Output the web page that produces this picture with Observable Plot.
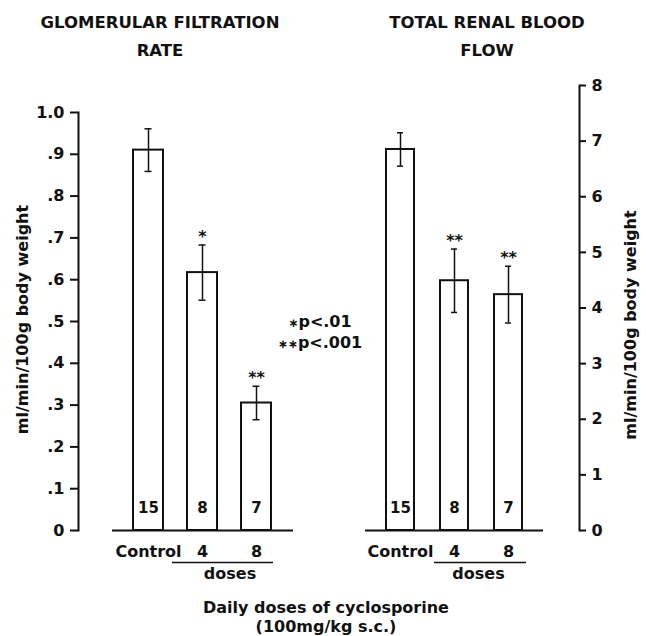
<!DOCTYPE html>
<html>
<head>
<meta charset="utf-8">
<script src="https://cdn.jsdelivr.net/npm/d3@7"></script>
<script src="https://cdn.jsdelivr.net/npm/@observablehq/plot@0.6"></script>
<style>
  html, body { margin: 0; padding: 0; background: #fff; }
  #wrap { position: relative; width: 646px; height: 636px; overflow: hidden; font-family: "DejaVu Sans", "Liberation Sans", Arial, sans-serif; font-weight: bold; color: #111; }
  .abs { position: absolute; white-space: nowrap; }
  .title { font-size: 16.5px; line-height: 28px; text-align: center; transform: translateX(-50%); }
  .note { font-size: 16px; line-height: 21px; text-align: center; transform: translateX(-50%); }
  .st { font-size: 12px; }
  .plot { position: absolute; top: 0; }
</style>
</head>
<body>
<div id="wrap">
  <div class="abs title" style="left:160px; top:9px;">GLOMERULAR FILTRATION<br>RATE</div>
  <div class="abs title" style="left:487px; top:9px;">TOTAL RENAL BLOOD<br>FLOW</div>
  <div class="abs note" style="left:320px; top:312px; line-height:20px;"><span class="st">∗</span>p&lt;.01<br><span class="st">∗∗</span>p&lt;.001</div>
  <div class="abs note" style="left:326px; top:598px; line-height:19px;">Daily doses of cyclosporine<br>(100mg/kg s.c.)</div>
</div>
<script>
// ---- data ----
const categories = ["Control", "4", "8"];

const gfrMean = [0.91, 0.617, 0.305];
const gfrErr  = [0.051, 0.066, 0.040];
const gfrN    = [15, 8, 7];
const gfrSig  = ["", "*", "**"];

const rbfMean = [6.85, 4.49, 4.24];
const rbfErr  = [0.30, 0.57, 0.51];
const rbfN    = [15, 8, 7];
const rbfSig  = ["", "**", "**"];

const gfrTicks = [0, 0.1, 0.2, 0.3, 0.4, 0.5, 0.6, 0.7, 0.8, 0.9, 1.0];
const gfrTickLabels = ["0", ".1", ".2", ".3", ".4", ".5", ".6", ".7", ".8", ".9", "1.0"];
const rbfTicks = [0, 1, 2, 3, 4, 5, 6, 7, 8];
const rbfTickLabels = ["0", "1", "2", "3", "4", "5", "6", "7", "8"];

const yLabel = "ml/min/100g body weight";
const groupLabel = "doses";

function rows(mean, err, n, sig) {
  return categories.map((c, i) => ({cat: c, v: mean[i], lo: mean[i] - err[i], hi: mean[i] + err[i], n: n[i], sig: sig[i]}));
}
const gfr = rows(gfrMean, gfrErr, gfrN, gfrSig);
const rbf = rows(rbfMean, rbfErr, rbfN, rbfSig);

const FONT = '"DejaVu Sans", "Liberation Sans", Arial, sans-serif';
const baseStyle = {fontFamily: FONT, fontSize: "16px", fontWeight: "bold", color: "#111", background: "white", overflow: "visible"};

function panel(data, opts) {
  const lab = (t) => opts.labels[opts.ticks.indexOf(t)];
  return Plot.plot({
    width: opts.width, height: 590,
    marginTop: opts.mt, marginBottom: 60, marginLeft: opts.ml, marginRight: opts.mr,
    style: baseStyle,
    x: {type: "band", domain: categories, range: opts.xrange, paddingInner: opts.pi, paddingOuter: opts.po, axis: null},
    y: {domain: opts.ydomain, axis: null},
    marks: [
      Plot.frame({anchor: opts.side, stroke: "#111", strokeWidth: 2}),
      Plot.axisY(opts.ticks, {anchor: opts.side, label: null, tickSize: opts.tickSize, tickPadding: 6, strokeWidth: 2, stroke: "#111", tickFormat: lab, fontSize: 16, fontWeight: "bold"}),
      Plot.axisX({label: null, tickSize: 0, tickPadding: 15, fontSize: 16, fontWeight: "bold"}),
      Plot.barY(data, {x: "cat", y: "v", fill: "white", stroke: "#111", strokeWidth: 2}),
      Plot.ruleY([0], {stroke: "#111", strokeWidth: 2, insetLeft: opts.baseInsetL, insetRight: opts.baseInsetR}),
      Plot.ruleX(data, {x: "cat", y1: "lo", y2: "hi", stroke: "#111", strokeWidth: 1.5}),
      Plot.tickY(data, {x: "cat", y: "lo", stroke: "#111", strokeWidth: 1.5, insetLeft: opts.cap, insetRight: opts.cap}),
      Plot.tickY(data, {x: "cat", y: "hi", stroke: "#111", strokeWidth: 1.5, insetLeft: opts.cap, insetRight: opts.cap}),
      Plot.text(data, {x: "cat", y: "hi", text: "sig", dy: -3, lineAnchor: "bottom", fontSize: 16, fontWeight: "bold"}),
      Plot.text(data, {x: "cat", frameAnchor: "bottom", text: "n", dy: -18, fontSize: 15, fontWeight: "bold"}),
      Plot.ruleY([0], {stroke: "#111", strokeWidth: 1.5, dy: 32, insetLeft: opts.ulL, insetRight: opts.ulR}),
      Plot.text([groupLabel], {frameAnchor: "bottom", dx: opts.dosesDx, dy: 48, fontSize: 16, fontWeight: "bold"}),
      Plot.text([yLabel], {frameAnchor: opts.side, textAnchor: "middle", rotate: -90, dx: opts.labDx, dy: opts.labDy, fontSize: 16, fontWeight: "bold"})
    ]
  });
}

const left = panel(gfr, {
  width: 330, mt: 112, ml: 78, mr: 37, side: "left",
  xrange: [112, 293], pi: 0.436, po: 0.3636, ydomain: [0, 1],
  ticks: gfrTicks, labels: gfrTickLabels, cap: 11.5, tickSize: 8,
  baseInsetL: 34, baseInsetR: 0, ulL: 94, ulR: 20, dosesDx: 44, labDx: -56, labDy: -2
});
const right = panel(rbf, {
  width: 316, mt: 85, ml: 35, mr: 67, side: "right",
  xrange: [35, 213], pi: 0.473, po: 0.355, ydomain: [0, 8],
  ticks: rbfTicks, labels: rbfTickLabels, cap: 11, tickSize: 6,
  baseInsetL: 0, baseInsetR: 36, ulL: 69, ulR: 53, dosesDx: 6, labDx: 51, labDy: 17
});
left.classList.add("plot"); left.style.left = "0px";
right.classList.add("plot"); right.style.left = "330px";
const wrap = document.getElementById("wrap");
wrap.insertBefore(right, wrap.firstChild);
wrap.insertBefore(left, wrap.firstChild);
</script>
</body>
</html>
